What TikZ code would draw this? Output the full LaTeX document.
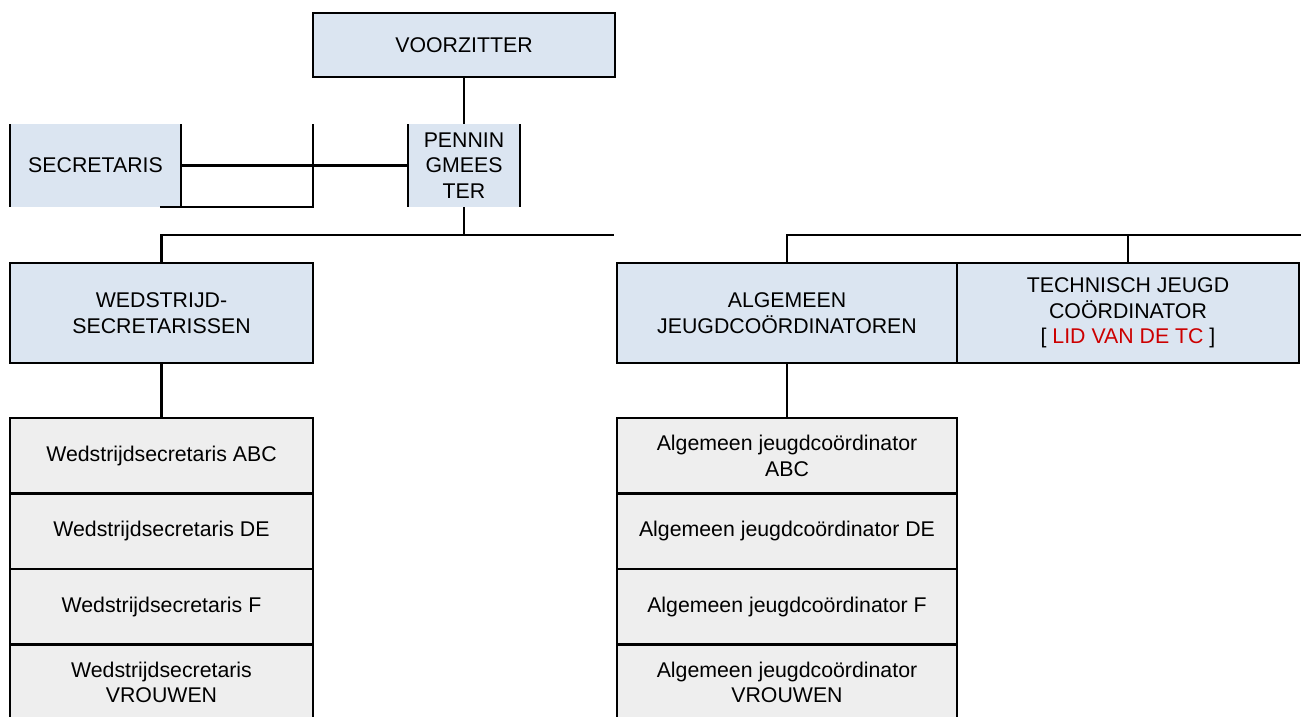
\documentclass[tikz,border=0pt]{standalone}
\usepackage{fontspec}
\setmainfont{Liberation Sans}
\usetikzlibrary{positioning}
\definecolor{cellblue}{HTML}{DBE5F1}
\definecolor{cellgrey}{HTML}{EEEEEE}
\definecolor{tcred}{HTML}{CC0000}
\tikzset{
  cell/.style={anchor=north west, inner sep=0pt, outer sep=0pt, align=center,
               font=\fontsize{21.3}{25.5}\selectfont},
  bluebox/.style={cell, fill=cellblue, draw=black, line width=2.8pt},
  greybox/.style={cell, fill=cellgrey, draw=black, line width=2.8pt, minimum height=75.5},
  openbox/.style={cell, fill=cellblue},
  link/.style={line width=2.8pt}
}
\begin{document}
\begin{tikzpicture}[x=1pt, y=-1pt]
\useasboundingbox (0,0) rectangle (1301,716);
\clip (0,0) rectangle (1301,716);
        % Draw the board
        \node[bluebox, minimum width=302, minimum height=64] at (313, 13) (voorz) {VOORZITTER};
        \node[openbox, minimum width=171, minimum height=83] at (10, 124) (secr) {SECRETARIS};
        \node[openbox, minimum width=112, minimum height=83] at (408, 124) (penn) {PENNIN\\GMEES\\TER};
        \coordinate (cellNE) at (313, 124);
        \coordinate (cellSE) at (313, 207);
        \coordinate (cellSW) at (160, 207);
        \coordinate (railL) at (614, 235);
        \coordinate (railR) at (1301, 235);
        % Draw the departments
        \node[bluebox, minimum width=303, minimum height=100] at (10, 263) (wed) {WEDSTRIJD-\\SECRETARISSEN};
        \node[bluebox, minimum width=340, minimum height=100] at (617, 263) (alg) {ALGEMEEN\\JEUGDCOÖRDINATOREN};
        \node[bluebox, minimum width=342, minimum height=100] at (957, 263) (tech) {TECHNISCH JEUGD\\COÖRDINATOR\\{}[ \textcolor{tcred}{LID VAN DE TC} ]};
        % Draw the members
        \node[greybox, minimum width=303] at (10, 418)   (ws1) {Wedstrijdsecretaris ABC};
        \node[greybox, minimum width=303] at (10, 493.5) (ws2) {Wedstrijdsecretaris DE};
        \node[greybox, minimum width=303] at (10, 569)   (ws3) {Wedstrijdsecretaris F};
        \node[greybox, minimum width=303] at (10, 644.5) (ws4) {Wedstrijdsecretaris\\VROUWEN};
        \node[greybox, minimum width=340] at (617, 418)   (aj1) {Algemeen jeugdcoördinator\\ABC};
        \node[greybox, minimum width=340] at (617, 493.5) (aj2) {Algemeen jeugdcoördinator DE};
        \node[greybox, minimum width=340] at (617, 569)   (aj3) {Algemeen jeugdcoördinator F};
        \node[greybox, minimum width=340] at (617, 644.5) (aj4) {Algemeen jeugdcoördinator\\VROUWEN};
        % Connect the boxes
        \draw[link]
            (secr.north west) -- (secr.south west)
            (secr.north east) -- (secr.south east)
            (penn.north west) -- (penn.south west)
            (penn.north east) -- (penn.south east)
            (cellNE) -- (cellSE) -- (cellSW)
            (secr.east) -- (penn.west)
            (voorz.south) -- (penn.north)
            (penn.south) -- (penn.south |- railL)
            (wed.north) |- (railL)
            (alg.north) |- (railR)
            (tech.north) -- (tech.north |- railR)
            (wed.south) -- (ws1.north)
            (alg.south) -- (aj1.north);
\end{tikzpicture}
\end{document}
